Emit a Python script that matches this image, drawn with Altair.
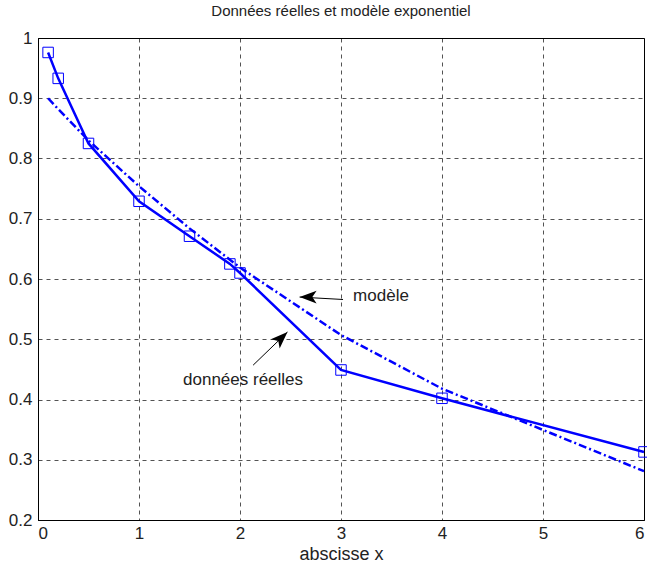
import altair as alt
import pandas as pd

x_data = [0.1, 0.2, 0.5, 1.0, 1.5, 1.9, 2.0, 3.0, 4.0, 6.0]
y_data = [0.976, 0.933, 0.825, 0.729, 0.671, 0.625, 0.610, 0.449, 0.402, 0.313]

# Exponential model evaluated at the same abscissae
y_model = [0.900, 0.882, 0.830, 0.754, 0.684, 0.632, 0.619, 0.507, 0.418, 0.281]

# Annotation texts and arrows
ann_text = ["modèle", "données réelles"]
ann_tx = [3.12, 2.03]
ann_ty = [0.572, 0.432]
ann_align = ["left", "center"]
arrow_x0 = [3.02, 2.13]
arrow_y0 = [0.566, 0.457]
arrow_x1 = [2.59, 2.47]
arrow_y1 = [0.570, 0.512]
arrow_angle = [180, 316]

blue = "#0000ff"
font = "Liberation Sans"

df = pd.DataFrame({"x": x_data, "y": y_data})
dm = pd.DataFrame({"x": x_data, "y": y_model})
dt = pd.DataFrame({"t": ann_text, "x": ann_tx, "y": ann_ty, "al": ann_align})
da = pd.DataFrame({"x0": arrow_x0, "y0": arrow_y0, "x1": arrow_x1, "y1": arrow_y1, "a": arrow_angle})

xs = alt.Scale(domain=[0, 6], nice=False, zero=False)
ys = alt.Scale(domain=[0.2, 1.0], nice=False, zero=False)

xaxis = alt.Axis(values=[0, 1, 2, 3, 4, 5, 6], title="abscisse x", format="d",
                 grid=True, gridDash=[4, 4], gridColor="#000", gridWidth=0.8, gridOpacity=0.85,
                 tickSize=0, labelPadding=5, labelFontSize=17, labelColor="#222", labelFont=font,
                 titleFont=font, titleFontSize=18, titleFontWeight="normal", titleColor="#222",
                 titlePadding=4, domainColor="#000", domainWidth=1)
yaxis = alt.Axis(values=[0.2, 0.3, 0.4, 0.5, 0.6, 0.7, 0.8, 0.9, 1.0], title=None,
                 labelExpr="datum.value == 1 ? '1' : format(datum.value, '.1f')",
                 grid=True, gridDash=[4, 4], gridColor="#000", gridWidth=0.8, gridOpacity=0.85,
                 tickSize=0, labelPadding=6, labelFontSize=17, labelColor="#222", labelFont=font,
                 domainColor="#000", domainWidth=1)

base = alt.Chart(df)

data_line = base.mark_line(color=blue, strokeWidth=2.5).encode(
    x=alt.X("x:Q", scale=xs, axis=xaxis),
    y=alt.Y("y:Q", scale=ys, axis=yaxis),
)
data_pts = base.mark_point(shape="square", size=110, filled=False, color=blue,
                           strokeWidth=1, opacity=1).encode(
    x=alt.X("x:Q", scale=xs), y=alt.Y("y:Q", scale=ys))

model_line = alt.Chart(dm).mark_line(color=blue, strokeWidth=2.5, strokeDash=[8, 3, 2, 3]).encode(
    x=alt.X("x:Q", scale=xs), y=alt.Y("y:Q", scale=ys))

arrow_rules = alt.Chart(da).mark_rule(color="#000", strokeWidth=1).encode(
    x=alt.X("x0:Q", scale=xs), y=alt.Y("y0:Q", scale=ys),
    x2="x1:Q", y2="y1:Q")

arrow_heads = alt.Chart(da).mark_point(
    shape="M0,0 L-2,-0.75 L-1.5,0 L-2,0.75 Z", filled=True, color="#000", size=289, opacity=1,
    strokeWidth=0).encode(
    x=alt.X("x1:Q", scale=xs), y=alt.Y("y1:Q", scale=ys),
    angle=alt.Angle("a:Q", scale=None))

texts_left = alt.Chart(dt[dt["al"] == "left"]).mark_text(
    align="left", baseline="middle", fontSize=17, font=font, color="#222").encode(
    x=alt.X("x:Q", scale=xs), y=alt.Y("y:Q", scale=ys), text="t:N")
texts_center = alt.Chart(dt[dt["al"] == "center"]).mark_text(
    align="center", baseline="middle", fontSize=17, font=font, color="#222").encode(
    x=alt.X("x:Q", scale=xs), y=alt.Y("y:Q", scale=ys), text="t:N")

chart = alt.layer(
    data_line, model_line, data_pts, arrow_rules, arrow_heads, texts_left, texts_center
).properties(
    width=606, height=482,
    title=alt.TitleParams("Données réelles et modèle exponentiel", font=font, fontSize=15,
                          fontWeight="normal", color="#222", anchor="middle", offset=10),
    padding={"left": 38, "top": 38, "right": 3, "bottom": 47},
    autosize=alt.AutoSizeParams(type="none"),
    background="white",
).configure_view(stroke="#000", strokeWidth=1)

chart.save("out.html", embed_options={"renderer": "svg", "actions": False})
